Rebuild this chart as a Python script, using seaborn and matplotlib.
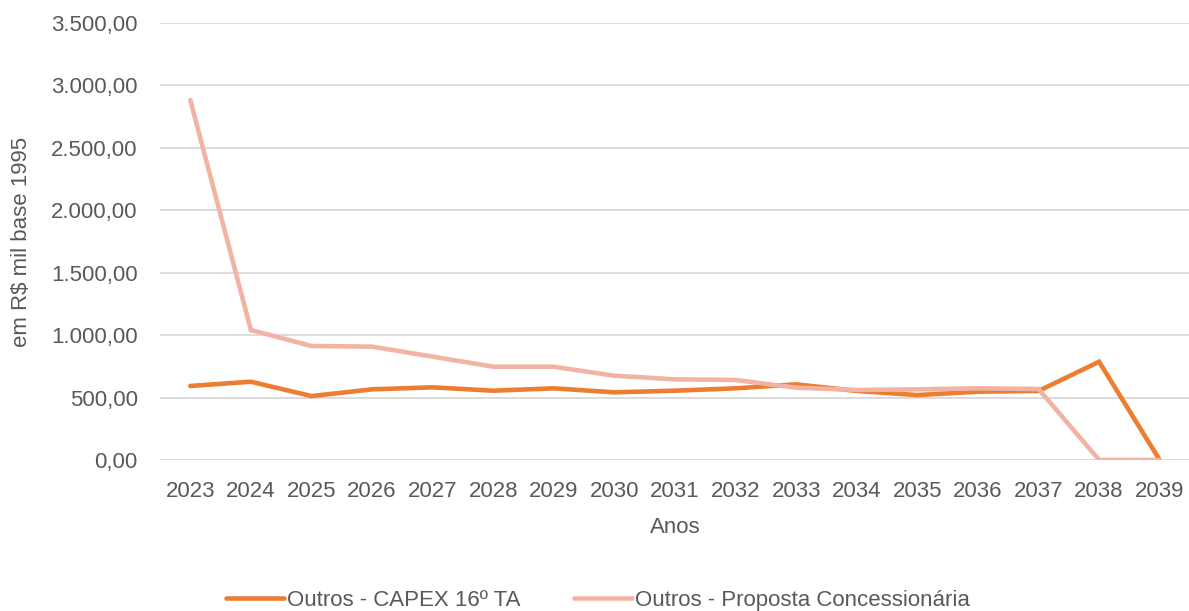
import matplotlib
matplotlib.use("Agg")
import matplotlib.pyplot as plt
import seaborn as sns
import pandas as pd
from matplotlib.ticker import FuncFormatter

anos = ["2023", "2024", "2025", "2026", "2027", "2028", "2029", "2030", "2031",
        "2032", "2033", "2034", "2035", "2036", "2037", "2038", "2039"]
capex_16ta = [593, 627, 512, 566, 582, 555, 574, 542, 555, 574, 606, 553, 520, 547, 553, 787, 0]
proposta = [2883, 1041, 913, 908, 828, 747, 747, 675, 646, 641, 579, 561, 566, 574, 569, 0, 0]
series_names = ["Outros - CAPEX 16º TA", "Outros - Proposta Concessionária"]
colors = ["#ED7D31", "#F1B4A2"]

df = pd.DataFrame({
    "Anos": anos * 2,
    "valor": capex_16ta + proposta,
    "serie": [series_names[0]] * len(anos) + [series_names[1]] * len(anos),
})

sns.set_theme(style="white")
plt.rcParams["font.family"] = ["Liberation Sans", "DejaVu Sans"]
txt = "#595959"
fs = 16

fig = plt.figure(figsize=(11.89, 6.11), dpi=100)
ax = fig.add_axes([160 / 1189, 1 - 460 / 611, 1030 / 1189, 437 / 611])

sns.lineplot(data=df, x="Anos", y="valor", hue="serie", palette=colors,
             hue_order=series_names, linewidth=3.3, ax=ax, sort=False)
for line in ax.get_lines():
    line.set_solid_capstyle("round")
    line.set_solid_joinstyle("miter")

ax.set_ylim(0, 3500)
ax.set_xlim(-0.5, len(anos) - 0.5)
ax.set_yticks(range(0, 3501, 500))


def fmt(v, pos):
    s = f"{v:,.2f}"
    return s.replace(",", "X").replace(".", ",").replace("X", ".")


ax.yaxis.set_major_formatter(FuncFormatter(fmt))
ax.grid(axis="y", color="#D9D9D9", linewidth=1.3)
ax.set_axisbelow(True)
for s in ax.spines.values():
    s.set_visible(False)
ax.tick_params(axis="both", length=0, labelsize=fs, colors=txt)
ax.tick_params(axis="x", pad=15)
ax.tick_params(axis="y", pad=16)
ax.set_xlabel("Anos", fontsize=fs, color=txt, labelpad=11)
ax.set_ylabel("em R$ mil base 1995", fontsize=fs, color=txt, labelpad=14)

leg = fig.legend(*ax.get_legend_handles_labels(), loc="center",
                 bbox_to_anchor=(0.503, 0.018), ncol=2,
                 frameon=False, fontsize=fs, handlelength=2.6, handletextpad=0.15,
                 columnspacing=2.4, borderpad=0, borderaxespad=0)
ax.get_legend().remove()
for t in leg.get_texts():
    t.set_color(txt)
for h in leg.get_lines():
    h.set_linewidth(3.3)
    h.set_solid_capstyle("round")

fig.savefig("out.png", dpi=100)
